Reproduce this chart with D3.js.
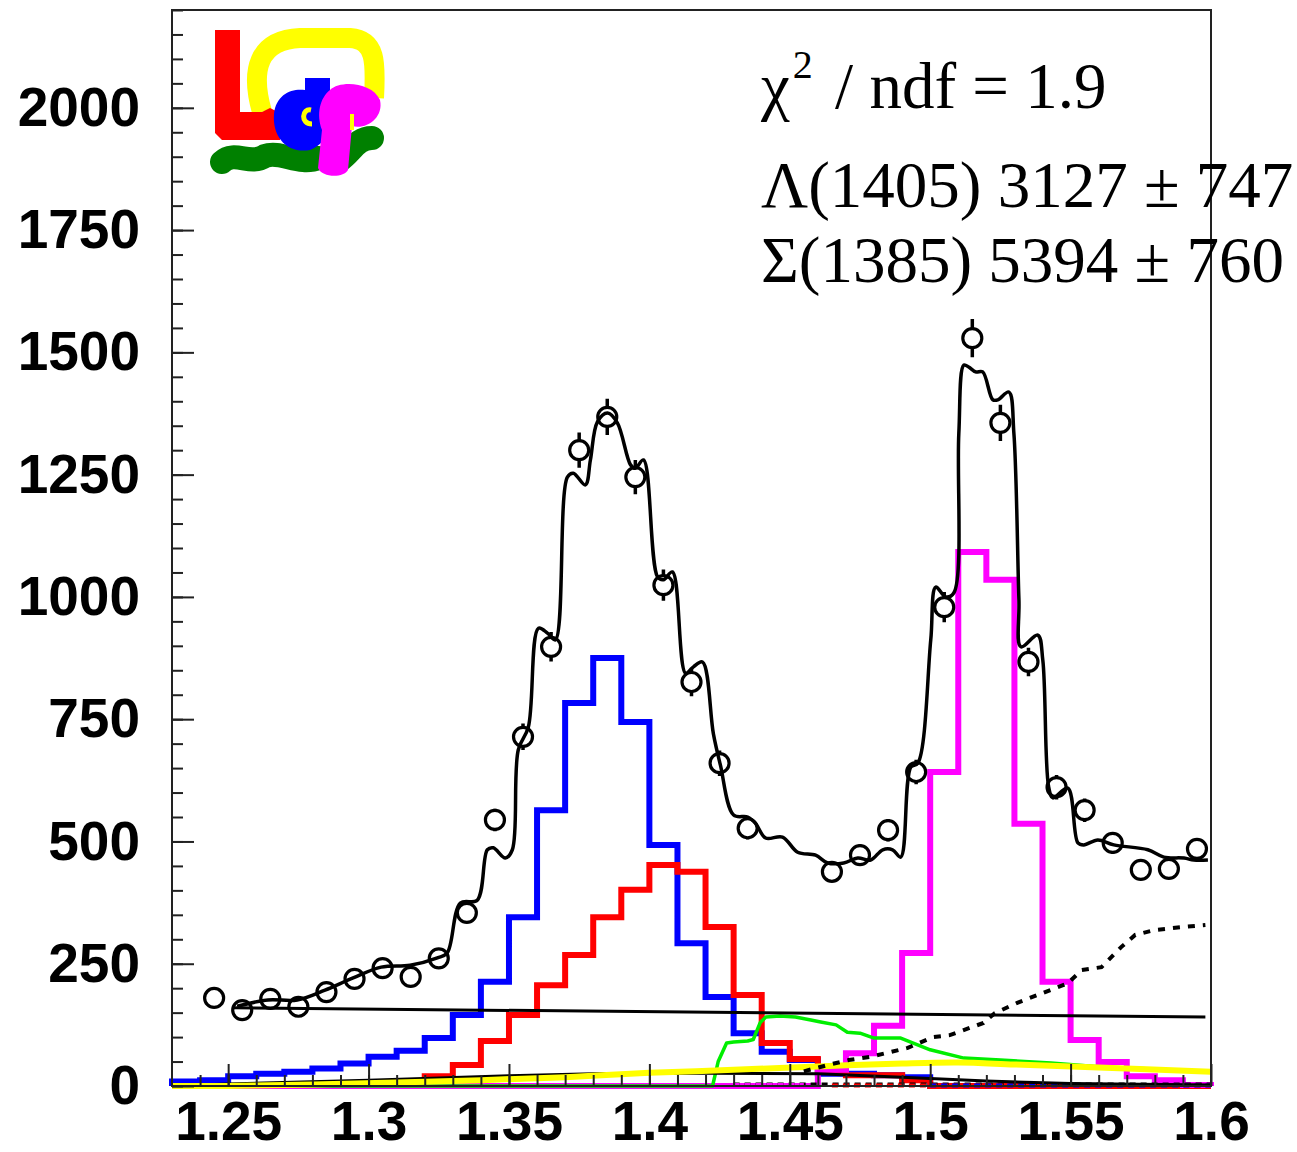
<!DOCTYPE html>
<html>
<head>
<meta charset="utf-8">
<script src="https://cdn.jsdelivr.net/npm/d3@7"></script>
<style>
  body { margin: 0; background: #fff; }
</style>
</head>
<body>
<svg id="chart" width="1297" height="1152"></svg>
<script>
// ---- data ----
const binLow = [1.23, 1.24, 1.25, 1.26, 1.27, 1.28, 1.29, 1.30, 1.31, 1.32, 1.33, 1.34, 1.35,
  1.36, 1.37, 1.38, 1.39, 1.40, 1.41, 1.42, 1.43, 1.44, 1.45, 1.46, 1.47, 1.48, 1.49,
  1.50, 1.51, 1.52, 1.53, 1.54, 1.55, 1.56, 1.57, 1.58, 1.59];
const binWidth = 0.01;

// blue template
const sigmaHist = [9, 12, 20, 25, 29, 36, 46, 60, 72, 98, 145, 213, 345,
  564, 783, 875, 744, 493, 292, 182, 108, 70, 53, 25, 25, 22, 18,
  0, 0, 0, 0, 0, 0, 0, 0, 0, 0];
// red template
const lambdaHist = [0, 0, 0, 0, 0, 0, 1, 3, 8, 20, 43, 92, 145,
  206, 268, 345, 401, 452, 438, 325, 186, 88, 55, 30, 22, 22, 12,
  0, 0, 0, 0, 0, 0, 0, 0, 0, 0];
// magenta template
const lambda1520Hist = [0, 0, 0, 0, 0, 0, 0, 0, 0, 0, 0, 0, 0,
  0, 0, 0, 0, 0, 0, 0, 0, 0, 0, 33, 67, 123, 272,
  642, 1092, 1035, 536, 213, 94, 49, 20, 12, 2];

// data points
const dataX = [1.245, 1.255, 1.265, 1.275, 1.285, 1.295, 1.305, 1.315, 1.325, 1.335, 1.345,
  1.355, 1.365, 1.375, 1.385, 1.395, 1.405, 1.415, 1.425, 1.435, 1.465, 1.475, 1.485,
  1.495, 1.505, 1.515, 1.525, 1.535, 1.545, 1.555, 1.565, 1.575, 1.585, 1.595];
const dataY = [180, 155, 178, 162, 192, 219, 241, 223, 261, 354, 544,
  714, 898, 1300, 1368, 1245, 1024, 826, 660, 527, 438, 472, 523,
  642, 979, 1529, 1356, 867, 611, 564, 497, 442, 444, 485];
const dataErr = [13, 12, 13, 13, 14, 15, 16, 15, 16, 19, 23,
  27, 30, 36, 37, 35, 32, 29, 26, 23, 21, 22, 23,
  25, 31, 39, 37, 29, 25, 24, 22, 21, 21, 22];

// total fit
const fitX = [1.2532, 1.2642, 1.2746, 1.2845, 1.2945, 1.3045, 1.3148, 1.3245, 1.328, 1.3327,
  1.3387, 1.3423, 1.3444, 1.3487, 1.3512, 1.3533, 1.3569, 1.3605, 1.3637, 1.3665, 1.3708,
  1.3729, 1.3772, 1.379, 1.3815, 1.3851, 1.3886, 1.3933, 1.395, 1.3979, 1.4029, 1.405,
  1.4082, 1.4129, 1.4157, 1.4189, 1.4228, 1.4253, 1.43, 1.435, 1.4378, 1.4414, 1.4474,
  1.4528, 1.4592, 1.4635, 1.4692, 1.4742, 1.4788, 1.4831, 1.4866, 1.4895, 1.4931, 1.4956,
  1.5002, 1.502, 1.5055, 1.5084, 1.5102, 1.512, 1.5137, 1.5162, 1.5187, 1.5223, 1.5241,
  1.528, 1.5298, 1.5316, 1.5323, 1.5383, 1.5401, 1.5422, 1.5437, 1.549, 1.5526, 1.5547,
  1.5597, 1.5654, 1.5775, 1.5832, 1.5904, 1.5939, 1.5989];
const fitY = [163, 176, 176, 196, 221, 243, 247, 262, 272, 374,
  380, 483, 487, 466, 483, 687, 734, 936, 926, 912, 1245,
  1253, 1229, 1280, 1358, 1376, 1356, 1270, 1263, 1280, 1041, 1035,
  1051, 844, 857, 867, 720, 656, 554, 550, 537, 507, 509,
  478, 472, 456, 456, 466, 462, 483, 483, 468, 652, 660,
  912, 1020, 1000, 1008, 1335, 1474, 1470, 1460, 1460, 1403, 1403,
  1419, 1335, 994, 898, 922, 871, 611, 589, 609, 497, 493,
  503, 493, 483, 468, 466, 462, 462];

// green component
const greenX = [1.23, 1.4225, 1.4245, 1.4275, 1.430, 1.435, 1.437, 1.4395, 1.4415, 1.4465,
  1.452, 1.4575, 1.461, 1.4665, 1.4705, 1.475, 1.480, 1.4895, 1.500, 1.512, 1.525,
  1.543, 1.561, 1.579, 1.599];
const greenY = [0, 0, 50, 88, 90, 92, 95, 130, 141, 143,
  141, 135, 131, 125, 110, 108, 98, 98, 74, 57, 53,
  47, 39, 35, 29];

// yellow component
const yellowX = [1.23, 1.25, 1.28, 1.31, 1.34, 1.37, 1.40, 1.43, 1.46, 1.49, 1.51, 1.53, 1.56, 1.60];
const yellowY = [0, 0, 3, 7, 12, 18, 27, 33, 40, 46, 48, 44, 38, 29];

// thin black component near the bottom
const lowX = [1.23, 1.25, 1.30, 1.35, 1.38, 1.42, 1.46, 1.49, 1.52, 1.55, 1.60];
const lowY = [0, 4, 12, 21, 25, 26, 25, 18, 10, 5, 2];

// black dashed component
const dashX = [1.455, 1.465, 1.471, 1.479, 1.492, 1.501, 1.507, 1.519, 1.523, 1.531, 1.540,
  1.549, 1.554, 1.561, 1.568, 1.573, 1.580, 1.590, 1.598];
const dashY = [30, 45, 53, 60, 78, 100, 104, 129, 149, 170, 190,
  210, 237, 243, 284, 309, 319, 325, 329];

// straight background
const bgX = [1.252, 1.598];
const bgY = [160, 141];

// near-zero dashed pieces: [from, to, level]
const zeroPieces = {
  black: [1.43, 1.60, 3],
  magenta: [1.43, 1.455, 2],
  red: [1.465, 1.60, 1],
  blue: [1.50, 1.60, 1]
};

const yTicks = [0, 250, 500, 750, 1000, 1250, 1500, 1750, 2000];
const yTickLabels = ["0", "250", "500", "750", "1000", "1250", "1500", "1750", "2000"];
const xTicks = [1.25, 1.3, 1.35, 1.4, 1.45, 1.5, 1.55, 1.6];
const xTickLabels = ["1.25", "1.3", "1.35", "1.4", "1.45", "1.5", "1.55", "1.6"];

// ---- drawing ----
const svg = d3.select("#chart");
const frame = { left: 172, right: 1211, top: 10, bottom: 1086 };

const x = d3.scaleLinear().domain([1.23, 1.6]).range([frame.left, frame.right]);
const y = d3.scaleLinear().domain([0, 2200]).range([frame.bottom, frame.top]);

const plot = svg.append("g");

// step path for a histogram
function histPath(vals) {
  let p = `M${x(binLow[0])},${y(0)}`;
  vals.forEach((v, i) => {
    p += `L${x(binLow[i])},${y(v)}L${x(binLow[i] + binWidth)},${y(v)}`;
  });
  p += `L${x(binLow[binLow.length - 1] + binWidth)},${y(0)}`;
  return p;
}

const line = d3.line().x(d => x(d[0])).y(d => y(d[1]));
const smooth = d3.line().x(d => x(d[0])).y(d => y(d[1])).curve(d3.curveCatmullRom.alpha(0.5));
const zip = (a, b) => a.map((v, i) => [v, b[i]]);

plot.append("path").attr("d", histPath(sigmaHist))
  .attr("fill", "none").attr("stroke", "#0000ff").attr("stroke-width", 6);
plot.append("path").attr("d", histPath(lambdaHist))
  .attr("fill", "none").attr("stroke", "#ff0000").attr("stroke-width", 6);
plot.append("path").attr("d", histPath(lambda1520Hist))
  .attr("fill", "none").attr("stroke", "#ff00ff").attr("stroke-width", 6);

plot.append("path").attr("d", line(zip(greenX, greenY)))
  .attr("fill", "none").attr("stroke", "#00ee00").attr("stroke-width", 3.5)
  .attr("stroke-linejoin", "round");

// near-zero dashed pieces
const zeroColor = { black: "#000", magenta: "#ff00ff", red: "#ff0000", blue: "#0000ff" };
Object.entries(zeroPieces).forEach(([k, p]) => {
  plot.append("path").attr("d", line([[p[0], p[2]], [p[1], p[2]]]))
    .attr("fill", "none").attr("stroke", zeroColor[k]).attr("stroke-width", 4)
    .attr("stroke-dasharray", "6,5");
});

plot.append("path").attr("d", line(zip(lowX, lowY)))
  .attr("fill", "none").attr("stroke", "#000").attr("stroke-width", 3);
plot.append("path").attr("d", smooth(zip(yellowX, yellowY)))
  .attr("fill", "none").attr("stroke", "#ffff00").attr("stroke-width", 6);

plot.append("path").attr("d", line(zip(dashX, dashY)))
  .attr("fill", "none").attr("stroke", "#000").attr("stroke-width", 4)
  .attr("stroke-dasharray", "7,8");

plot.append("path").attr("d", line(zip(bgX, bgY)))
  .attr("fill", "none").attr("stroke", "#000").attr("stroke-width", 3);

plot.append("path").attr("d", smooth(zip(fitX, fitY)))
  .attr("fill", "none").attr("stroke", "#000").attr("stroke-width", 3.5)
  .attr("stroke-linejoin", "round");

// data points: open circles with error bars outside the marker
const r = 9.5;
const pts = plot.append("g").selectAll("g")
  .data(dataX.map((v, i) => ({ x: v, y: dataY[i], e: dataErr[i] })))
  .join("g");
pts.filter(d => y(d.y - d.e) - y(d.y) > r).append("path")
  .attr("d", d => `M${x(d.x)},${y(d.y + d.e)}V${y(d.y) - r}M${x(d.x)},${y(d.y) + r}V${y(d.y - d.e)}`)
  .attr("stroke", "#000").attr("stroke-width", 3.5);
pts.append("circle")
  .attr("cx", d => x(d.x)).attr("cy", d => y(d.y)).attr("r", r)
  .attr("fill", "none").attr("stroke", "#000").attr("stroke-width", 3.2);

// frame
svg.append("rect")
  .attr("x", frame.left).attr("y", frame.top)
  .attr("width", frame.right - frame.left).attr("height", frame.bottom - frame.top)
  .attr("fill", "none").attr("stroke", "#222").attr("stroke-width", 2);

// axes
const tickFont = "'Liberation Sans', Arial, sans-serif";
svg.append("g").attr("transform", `translate(${frame.left},0)`)
  .call(d3.axisLeft(y).tickValues(yTicks).tickSizeInner(-22).tickSizeOuter(0).tickPadding(32)
    .tickFormat((d, i) => yTickLabels[i]));
svg.append("g").attr("transform", `translate(${frame.left},0)`)
  .call(d3.axisLeft(y).tickValues(d3.range(0, 2201, 50)).tickSizeInner(-11).tickSizeOuter(0).tickFormat(""));

svg.append("g").attr("class", "xaxis").attr("transform", `translate(0,${frame.bottom})`)
  .call(d3.axisBottom(x).tickValues(xTicks).tickSizeInner(-22).tickSizeOuter(0).tickPadding(15)
    .tickFormat((d, i) => xTickLabels[i]));
svg.append("g").attr("transform", `translate(0,${frame.bottom})`)
  .call(d3.axisBottom(x).tickValues(binLow.slice(1)).tickSizeInner(-11).tickSizeOuter(0).tickFormat(""));

svg.selectAll(".domain").remove();
svg.selectAll(".tick line").attr("stroke", "#222").attr("stroke-width", 2);
svg.selectAll(".tick text")
  .attr("font-family", tickFont).attr("font-weight", "bold").attr("font-size", 55).attr("fill", "#000");

// logo
const logo = svg.append("g");
logo.append("path").attr("d", "M262,112 C250,70 258,40 300,38 L350,38 C376,40 376,62 374,98")
  .attr("fill", "none").attr("stroke", "#ffff00").attr("stroke-width", 20);
logo.append("path").attr("d", "M215,30 H240 V112 H262 L270,108 L280,113 V140 H222 L215,133 Z")
  .attr("fill", "#ff0000");
logo.append("path").attr("d", "M222,162 C235,150 250,166 265,156 C280,150 300,166 318,158 L340,160 C352,152 356,138 372,138")
  .attr("fill", "none").attr("stroke", "#008000").attr("stroke-width", 24).attr("stroke-linecap", "round");
logo.append("path").attr("d", "M305,78 H330 V96 C336,112 332,142 310,150 C288,154 272,138 274,114 C276,94 292,88 305,90 Z")
  .attr("fill", "#0000ff");
logo.append("path").attr("d", "M311,110 C302,108 300,124 312,124")
  .attr("fill", "none").attr("stroke", "#ffff00").attr("stroke-width", 5);
logo.append("path").attr("d", "M330,90 C340,80 372,82 380,100 C384,118 366,130 352,126 L348,170 C344,178 322,178 318,168 L322,130 C316,114 320,98 330,90 Z")
  .attr("fill", "#ff00ff");
logo.append("path").attr("d", "M352,114 V130")
  .attr("stroke", "#ffff00").attr("stroke-width", 4);

// fit results text
const serif = "'Liberation Serif', 'Times New Roman', serif";
const t1 = svg.append("text").attr("x", 761).attr("y", 108)
  .attr("font-family", serif).attr("font-size", 65).attr("fill", "#000");
t1.append("tspan").text("χ");
t1.append("tspan").attr("dy", -30).attr("dx", 3).attr("font-size", 40).text("2");
t1.append("tspan").attr("dy", 30).attr("dx", 6).text(" / ndf = 1.9");

svg.append("text").attr("x", 761).attr("y", 207)
  .attr("font-family", serif).attr("font-size", 65).attr("fill", "#000")
  .text("Λ(1405) 3127 ± 747");
svg.append("text").attr("x", 761).attr("y", 282)
  .attr("font-family", serif).attr("font-size", 65).attr("fill", "#000")
  .text("Σ(1385) 5394 ± 760");
</script>
</body>
</html>
